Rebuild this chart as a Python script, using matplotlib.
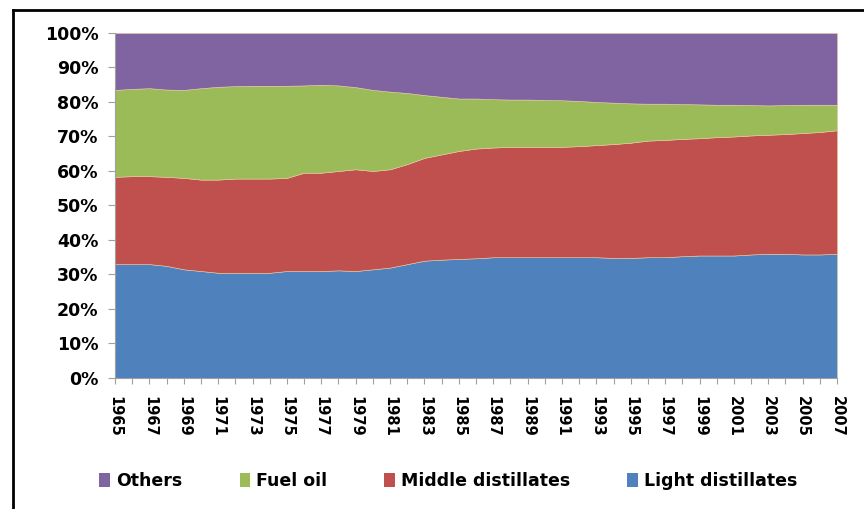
import matplotlib.pyplot as plt
import numpy as np
from matplotlib.lines import Line2D
from matplotlib.patches import Patch

years = np.arange(1965, 2008)

# shares in %
light = [33.0, 33.0, 33.0, 32.5, 31.5, 31.0, 30.5, 30.5, 30.5, 30.5,
         31.0, 31.0, 31.0, 31.2, 31.0, 31.5, 32.0, 33.0, 34.0, 34.3,
         34.5, 34.7, 35.0, 35.0, 35.0, 35.0, 35.0, 35.0, 35.0, 34.8,
         34.8, 35.0, 35.0, 35.3, 35.5, 35.5, 35.5, 35.8, 36.0, 36.0,
         35.8, 35.8, 36.0]
middle = [25.3, 25.5, 25.5, 25.8, 26.5, 26.5, 27.0, 27.3, 27.3, 27.3,
          27.0, 28.5, 28.5, 28.8, 29.5, 28.5, 28.5, 29.0, 29.8, 30.5,
          31.3, 31.8, 31.8, 32.0, 32.0, 32.0, 32.0, 32.2, 32.5, 33.0,
          33.4, 33.8, 34.0, 34.0, 34.0, 34.3, 34.5, 34.5, 34.5, 34.7,
          35.2, 35.5, 35.8]
fuel = [25.2, 25.3, 25.5, 25.3, 25.5, 26.5, 26.9, 26.8, 26.9, 26.9,
        26.7, 25.3, 25.5, 24.8, 23.8, 23.5, 22.5, 20.6, 18.2, 16.7,
        15.2, 14.5, 14.0, 13.7, 13.7, 13.6, 13.5, 13.1, 12.5, 12.0,
        11.4, 10.7, 10.5, 10.1, 9.8, 9.4, 9.2, 8.8, 8.5, 8.4,
        8.2, 7.9, 7.4]
others = [16.5, 16.2, 16.0, 16.4, 16.5, 16.0, 15.6, 15.4, 15.3, 15.3,
          15.3, 15.2, 15.0, 15.2, 15.7, 16.5, 17.0, 17.4, 18.0, 18.5,
          19.0, 19.0, 19.2, 19.3, 19.3, 19.4, 19.5, 19.7, 20.0, 20.2,
          20.4, 20.5, 20.5, 20.6, 20.7, 20.8, 20.8, 20.9, 21.0, 20.9,
          20.8, 20.8, 20.8]

names = ['Light distillates', 'Middle distillates', 'Fuel oil', 'Others']
colors = ['#4F81BD', '#C0504D', '#9BBB59', '#8064A2']

fig = plt.figure(figsize=(8.64, 5.09), dpi=100)
ax = fig.add_axes([0.1331, 0.2574, 0.8357, 0.6778])

ax.stackplot(years, light, middle, fuel, others, colors=colors,
             edgecolor='#E8C9A0', linewidth=0.4)

ax.set_xlim(1965, 2007)
ax.set_ylim(0, 100)
ax.set_yticks(np.arange(0, 101, 10))
ax.set_yticklabels(['%d%%' % v for v in range(0, 101, 10)])
ax.set_xticks(years)
ax.set_xticklabels([str(y) if (y - 1965) % 2 == 0 else '' for y in years],
                   rotation=-90)

for lab in ax.get_yticklabels():
    lab.set_fontweight('bold')
    lab.set_fontsize(12.5)
for lab in ax.get_xticklabels():
    lab.set_fontweight('bold')
    lab.set_fontsize(10.5)

ax.tick_params(axis='y', length=5, color='#A0A0A0', pad=7)
ax.tick_params(axis='x', length=4, color='#A0A0A0', pad=9)
for s in ['top', 'right']:
    ax.spines[s].set_visible(False)
for s in ['left', 'bottom']:
    ax.spines[s].set_color('#A0A0A0')

handles = [Patch(facecolor=c) for c in colors[::-1]]
fig.legend(handles, names[::-1], loc='center', ncol=4,
           bbox_to_anchor=(0.519, 0.055), frameon=False,
           prop={'weight': 'bold', 'size': 12.5},
           handlelength=0.6, handleheight=0.9, handletextpad=0.35,
           columnspacing=3.3)

# outer frame (left and top edges visible)
fig.add_artist(Line2D([0.0150, 0.0150], [0.0, 0.9813], color='black', lw=2,
                      transform=fig.transFigure))
fig.add_artist(Line2D([0.0150, 1.0], [0.9813, 0.9813], color='black', lw=2,
                      transform=fig.transFigure))

fig.savefig('out.png', dpi=100)
